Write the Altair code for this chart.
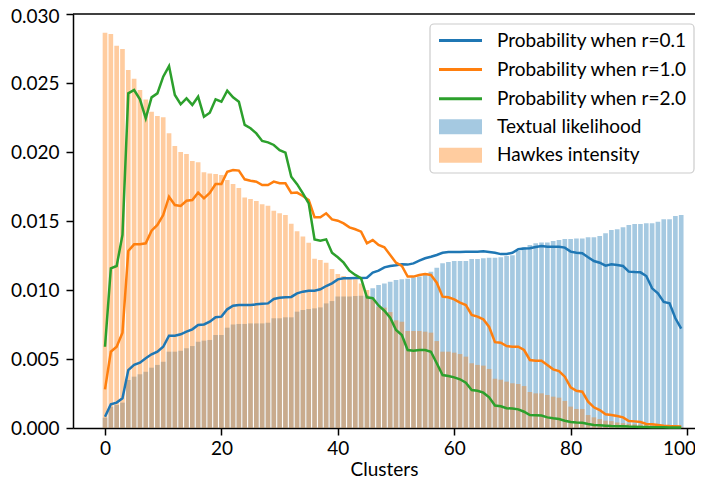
import altair as alt
import pandas as pd

clusters = list(range(100))

textual_likelihood = [
    0.00075, 0.00154, 0.00167, 0.00184, 0.00348, 0.00372, 0.00389, 0.00408, 0.00437, 0.00457,
    0.00480, 0.00553, 0.00553, 0.00560, 0.00577, 0.00594, 0.00625, 0.00633, 0.00638, 0.00674,
    0.00674, 0.00727, 0.00750, 0.00754, 0.00754, 0.00758, 0.00758, 0.00758, 0.00763, 0.00795,
    0.00795, 0.00802, 0.00802, 0.00843, 0.00855, 0.00862, 0.00867, 0.00874, 0.00903, 0.00920,
    0.00952, 0.00952, 0.00952, 0.00957, 0.00959, 0.00960, 0.01012, 0.01036, 0.01048, 0.01060,
    0.01072, 0.01077, 0.01082, 0.01092, 0.01097, 0.01121, 0.01133, 0.01162, 0.01193, 0.01203,
    0.01210, 0.01210, 0.01210, 0.01225, 0.01225, 0.01230, 0.01234, 0.01234, 0.01237, 0.01246,
    0.01251, 0.01283, 0.01309, 0.01326, 0.01338, 0.01345, 0.01345, 0.01355, 0.01362, 0.01370,
    0.01370, 0.01374, 0.01374, 0.01382, 0.01382, 0.01391, 0.01411, 0.01435, 0.01440, 0.01454,
    0.01471, 0.01478, 0.01478, 0.01483, 0.01483, 0.01495, 0.01512, 0.01512, 0.01536, 0.01543,
]

hawkes_intensity = [
    0.02865, 0.02855, 0.02770, 0.02746, 0.02594, 0.02530, 0.02450, 0.02380, 0.02292, 0.02261,
    0.02251, 0.02135, 0.02043, 0.02000, 0.01986, 0.01935, 0.01925, 0.01853, 0.01845, 0.01840,
    0.01833, 0.01797, 0.01768, 0.01739, 0.01671, 0.01660, 0.01645, 0.01621, 0.01611, 0.01575,
    0.01556, 0.01543, 0.01480, 0.01426, 0.01387, 0.01343, 0.01227, 0.01217, 0.01198, 0.01152,
    0.01116, 0.01101, 0.01092, 0.01077, 0.01048, 0.01000, 0.00932, 0.00879, 0.00872, 0.00840,
    0.00780, 0.00770, 0.00703, 0.00703, 0.00703, 0.00698, 0.00691, 0.00630, 0.00553, 0.00553,
    0.00546, 0.00536, 0.00517, 0.00469, 0.00457, 0.00452, 0.00428, 0.00357, 0.00350, 0.00336,
    0.00324, 0.00319, 0.00304, 0.00261, 0.00251, 0.00251, 0.00239, 0.00227, 0.00220, 0.00196,
    0.00155, 0.00138, 0.00138, 0.00094, 0.00077, 0.00065, 0.00053, 0.00050, 0.00040, 0.00035,
    0.00030, 0.00028, 0.00024, 0.00020, 0.00018, 0.00015, 0.00012, 0.00010, 0.00008, 0.00006,
]

prob_r01 = [
    0.00082, 0.00172, 0.00184, 0.00215, 0.00420, 0.00457, 0.00473, 0.00505, 0.00534, 0.00553,
    0.00589, 0.00669, 0.00669, 0.00679, 0.00698, 0.00715, 0.00746, 0.00750, 0.00770, 0.00802,
    0.00807, 0.00860, 0.00886, 0.00891, 0.00891, 0.00891, 0.00896, 0.00901, 0.00903, 0.00935,
    0.00944, 0.00947, 0.00950, 0.00976, 0.00988, 0.00995, 0.00995, 0.01005, 0.01029, 0.01048,
    0.01077, 0.01085, 0.01085, 0.01087, 0.01087, 0.01089, 0.01126, 0.01140, 0.01164, 0.01174,
    0.01179, 0.01186, 0.01184, 0.01193, 0.01213, 0.01230, 0.01241, 0.01254, 0.01270, 0.01275,
    0.01275, 0.01275, 0.01277, 0.01277, 0.01277, 0.01280, 0.01275, 0.01270, 0.01260, 0.01261,
    0.01270, 0.01295, 0.01300, 0.01302, 0.01312, 0.01319, 0.01314, 0.01314, 0.01314, 0.01307,
    0.01278, 0.01270, 0.01266, 0.01237, 0.01210, 0.01198, 0.01176, 0.01186, 0.01181, 0.01174,
    0.01133, 0.01130, 0.01128, 0.01101, 0.01012, 0.00976, 0.00913, 0.00903, 0.00795, 0.00720,
]

prob_r10 = [
    0.00280, 0.00553, 0.00589, 0.00691, 0.01283, 0.01331, 0.01331, 0.01338, 0.01430, 0.01471,
    0.01543, 0.01676, 0.01616, 0.01609, 0.01647, 0.01652, 0.01705, 0.01664, 0.01703, 0.01768,
    0.01768, 0.01857, 0.01870, 0.01865, 0.01802, 0.01792, 0.01785, 0.01761, 0.01761, 0.01785,
    0.01773, 0.01773, 0.01703, 0.01706, 0.01681, 0.01652, 0.01527, 0.01527, 0.01556, 0.01512,
    0.01502, 0.01483, 0.01454, 0.01440, 0.01423, 0.01338, 0.01362, 0.01326, 0.01309, 0.01254,
    0.01198, 0.01174, 0.01097, 0.01097, 0.01109, 0.01116, 0.01109, 0.01053, 0.00952, 0.00947,
    0.00932, 0.00908, 0.00891, 0.00819, 0.00807, 0.00788, 0.00732, 0.00622, 0.00618, 0.00594,
    0.00589, 0.00589, 0.00565, 0.00493, 0.00488, 0.00488, 0.00457, 0.00425, 0.00413, 0.00372,
    0.00295, 0.00270, 0.00263, 0.00191, 0.00150, 0.00130, 0.00099, 0.00094, 0.00087, 0.00077,
    0.00051, 0.00048, 0.00043, 0.00029, 0.00027, 0.00022, 0.00017, 0.00014, 0.00012, 0.00010,
]

prob_r20 = [
    0.00589, 0.01157, 0.01174, 0.01399, 0.02425, 0.02449, 0.02382, 0.02244, 0.02396, 0.02425,
    0.02546, 0.02623, 0.02413, 0.02346, 0.02389, 0.02341, 0.02401, 0.02256, 0.02285, 0.02382,
    0.02364, 0.02444, 0.02396, 0.02364, 0.02196, 0.02172, 0.02135, 0.02080, 0.02070, 0.02051,
    0.02014, 0.01995, 0.01821, 0.01767, 0.01700, 0.01628, 0.01367, 0.01357, 0.01367, 0.01270,
    0.01237, 0.01198, 0.01140, 0.01109, 0.01085, 0.00947, 0.00940, 0.00888, 0.00850, 0.00800,
    0.00710, 0.00674, 0.00565, 0.00560, 0.00565, 0.00565, 0.00553, 0.00469, 0.00384, 0.00377,
    0.00367, 0.00353, 0.00328, 0.00275, 0.00270, 0.00256, 0.00222, 0.00163, 0.00157, 0.00143,
    0.00141, 0.00135, 0.00118, 0.00094, 0.00092, 0.00090, 0.00077, 0.00070, 0.00065, 0.00053,
    0.00043, 0.00040, 0.00038, 0.00029, 0.00022, 0.00020, 0.00017, 0.00014, 0.00013, 0.00012,
    0.00010, 0.00009, 0.00008, 0.00007, 0.00006, 0.00005, 0.00005, 0.00004, 0.00004, 0.00003,
]

line_names = ["Probability when r=0.1", "Probability when r=1.0", "Probability when r=2.0"]
line_colors = ["#1f77b4", "#ff7f0e", "#2ca02c"]
bar_names = ["Textual likelihood", "Hawkes intensity"]
bar_colors = ["#1f77b4", "#ff7f0e"]
x_ticks = [0, 20, 40, 60, 80, 100]
y_ticks = [0.0, 0.005, 0.010, 0.015, 0.020, 0.025, 0.030]

FONT = "Lato"
FS = 19
W, H = 622, 414

bars_df = pd.concat([
    pd.DataFrame({"idx": clusters, "value": textual_likelihood, "series": bar_names[0]}),
    pd.DataFrame({"idx": clusters, "value": hawkes_intensity, "series": bar_names[1]}),
], ignore_index=True)

lines_df = pd.concat([
    pd.DataFrame({"idx": clusters, "value": vals, "series": name})
    for name, vals in zip(line_names, [prob_r01, prob_r10, prob_r20])
], ignore_index=True)

xscale = alt.Scale(domain=[-5.5, 101.37], nice=False, zero=False)
yscale = alt.Scale(domain=[0, 0.03], nice=False)

xaxis = alt.Axis(
    values=x_ticks, title="Clusters", labelPadding=4, titlePadding=2, format="d",
    labelOffset={"condition": {"test": "datum.value === 100", "value": -8}, "value": 0},
)
yaxis = alt.Axis(
    values=y_ticks, title=None, format=".3f", labelPadding=7,
    labelOffset={"condition": {"test": "datum.value >= 0.0299", "value": 2}, "value": 0},
)

bars = alt.Chart(bars_df).transform_calculate(
    x0="datum.idx - 0.4", x1="datum.idx + 0.4"
).mark_bar(fillOpacity=0.4, strokeWidth=0).encode(
    x=alt.X("x0:Q", scale=xscale, axis=xaxis),
    x2="x1:Q",
    y=alt.Y("value:Q", scale=yscale, axis=yaxis),
    y2=alt.datum(0),
    fill=alt.Fill("series:N", scale=alt.Scale(domain=bar_names, range=bar_colors),
                  legend=alt.Legend(title=None, orient="none", legendX=377.5, legendY=102.7,
                                    padding=0, symbolType="M-2.15,-0.75H2.15V0.75H-2.15Z",
                                    symbolSize=400, symbolOpacity=0.4, symbolStrokeWidth=0,
                                    labelFont=FONT, labelFontSize=FS, labelColor="black",
                                    labelLimit=0, labelOffset=26.5, rowPadding=8.5)),
)

lines = alt.Chart(lines_df).mark_line(strokeWidth=2.5).encode(
    x=alt.X("idx:Q", scale=xscale, axis=xaxis),
    y=alt.Y("value:Q", scale=yscale, axis=yaxis),
    stroke=alt.Stroke("series:N", scale=alt.Scale(domain=line_names, range=line_colors),
                      legend=alt.Legend(title=None, orient="none", legendX=376, legendY=15,
                                        padding=0, symbolType="M-2.15,0H2.15",
                                        symbolSize=400, symbolStrokeWidth=3,
                                        labelFont=FONT, labelFontSize=FS, labelColor="black",
                                        labelLimit=0, labelOffset=25, rowPadding=7.1)),
)

one = pd.DataFrame({"a": [0]})
top_border = alt.Chart(one).mark_rule(color="black", strokeWidth=1.5).encode(
    x=alt.value(0), x2=alt.value(W), y=alt.value(0)
)
legend_box = alt.Chart(one).mark_rect(
    fill="white", fillOpacity=0.8, stroke="#cccccc", strokeWidth=1.2, cornerRadius=4
).encode(
    x=alt.value(357), x2=alt.value(621), y=alt.value(10), y2=alt.value(159)
)

chart = alt.layer(bars, lines, top_border, legend_box).properties(
    width=W, height=H,
    autosize=alt.AutoSizeParams(type="none"),
    padding={"left": 65, "top": 6, "right": 0, "bottom": 52},
).configure_view(stroke=None).configure_axis(
    grid=False, domainColor="black", domainWidth=1.5, tickColor="black", tickWidth=1.5,
    tickSize=7, labelColor="black", labelFont=FONT, labelFontSize=FS,
    titleColor="black", titleFont=FONT, titleFontSize=FS, titleFontWeight="normal",
)

chart.save("out.html", embed_options={"renderer": "svg", "actions": False})
